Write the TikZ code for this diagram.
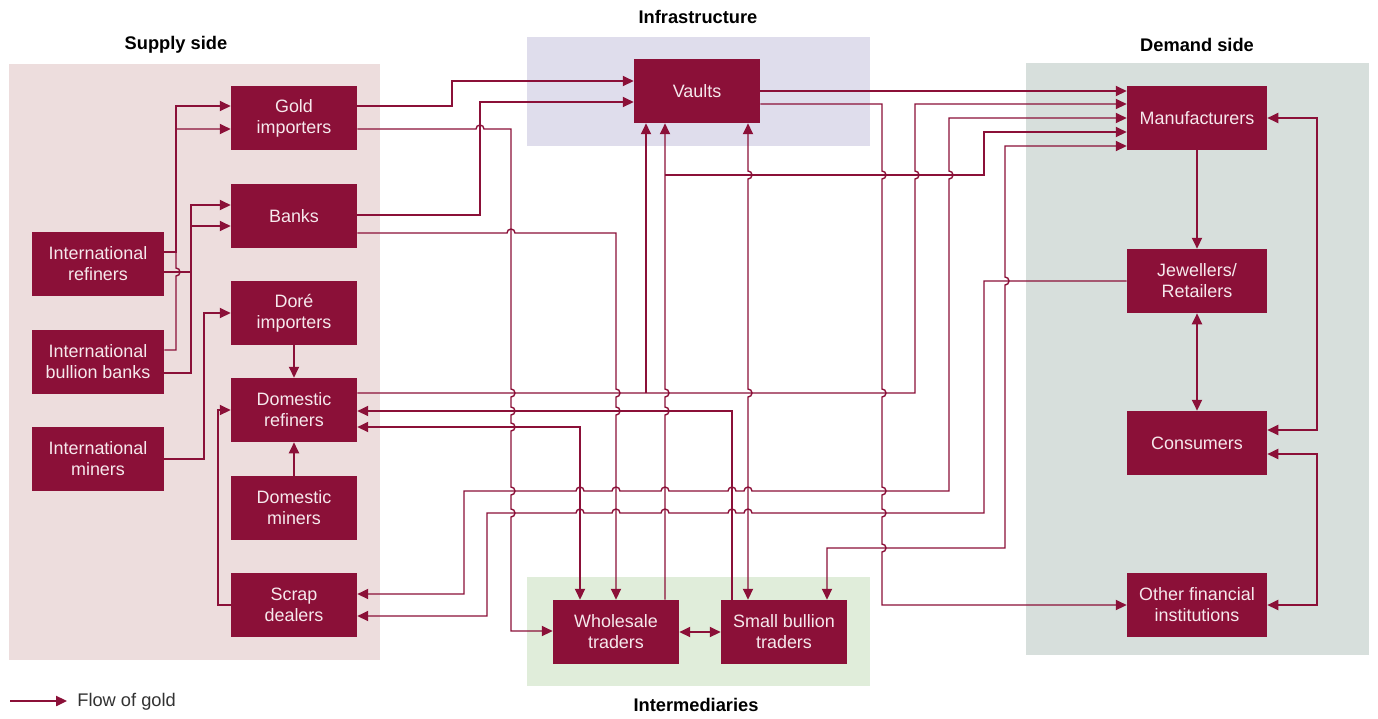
\documentclass[tikz,border=0pt]{standalone}
\usepackage{fontspec}
\setmainfont{Liberation Sans}
\usetikzlibrary{arrows.meta}
\definecolor{maroon}{RGB}{139,16,56}
\definecolor{boxtext}{RGB}{246,232,236}
\definecolor{supplybg}{RGB}{237,221,221}
\definecolor{infrabg}{RGB}{223,221,236}
\definecolor{demandbg}{RGB}{215,223,220}
\definecolor{intermbg}{RGB}{224,237,218}
\definecolor{legendtext}{RGB}{50,50,50}
\tikzset{
  flow/.style={draw=maroon, line width=0.8pt},
  vd/.style 2 args={insert path={-- (#1,#2-4) arc[start angle=-90,end angle=90,radius=4]}},
  vu/.style 2 args={insert path={-- (#1,#2+4) arc[start angle=90,end angle=-90,radius=4]}},
  hr/.style 2 args={insert path={-- (#1-4,#2) arc[start angle=180,end angle=360,radius=4]}},
  hl/.style 2 args={insert path={-- (#1+4,#2) arc[start angle=0,end angle=-180,radius=4]}},
  box/.style={fill=maroon, text=boxtext, minimum width=2.52cm, minimum height=1.28cm,
    inner sep=0pt, align=center, font=\fontsize{10.2}{12}\selectfont},
  ibox/.style={box, minimum width=2.64cm},
  dbox/.style={box, minimum width=2.8cm},
  title/.style={font=\fontsize{10.4}{12}\selectfont\bfseries, text=black},
}
\begin{document}
\begin{tikzpicture}[x=0.02cm,y=-0.02cm,>={Triangle[length=6.2pt,width=5.8pt]}]
\useasboundingbox (0,0) rectangle (1378,718);
% background areas
\fill[supplybg] (9,64) rectangle (380,660);
\fill[infrabg] (527,37) rectangle (870,146);
\fill[demandbg] (1026,63) rectangle (1369,655);
\fill[intermbg] (527,577) rectangle (870,686);
% titles
\node[title] (tsupply) at (176,45) {Supply side};
\node[title] (tinfra) at (698,17) {Infrastructure};
\node[title] (tdemand) at (1197,45) {Demand side};
\node[title] (tinterm) at (696,705) {Intermediaries};
% nodes
\node[box] (gold) at (294,118) {Gold\\importers};
\node[box] (banks) at (294,216) {Banks};
\node[box] (dore) at (294,313) {Doré\\importers};
\node[box] (domref) at (294,410) {Domestic\\refiners};
\node[box] (dommin) at (294,508) {Domestic\\miners};
\node[box] (scrap) at (294,605) {Scrap\\dealers};
\node[ibox] (intref) at (98,264) {International\\refiners};
\node[ibox] (intbb) at (98,362) {International\\bullion banks};
\node[ibox] (intmin) at (98,459) {International\\miners};
\node[box] (vaults) at (697,91) {Vaults};
\node[box] (whole) at (616,632) {Wholesale\\traders};
\node[box] (small) at (784,632) {Small bullion\\traders};
\node[dbox] (manu) at (1197,118) {Manufacturers};
\node[dbox] (jewel) at (1197,281) {Jewellers/\\Retailers};
\node[dbox] (cons) at (1197,443) {Consumers};
\node[dbox] (other) at (1197,605) {Other financial\\institutions};
\coordinate (j1) at (646,393);
\coordinate (j2) at (665,175);
% supply side internal
\draw[flow,->] (intref.east |- 0,252) -- (176,252) -- (176,106) -- (gold.west |- 0,106);
\draw[flow,->] (intbb.east |- 0,350) -- (176,350) [vu={176}{272}] -- (176,129) -- (gold.west |- 0,129);
\draw[flow,->] (intref.east |- 0,272) -- (191,272) -- (191,205) -- (banks.west |- 0,205);
\draw[flow,->] (intbb.east |- 0,373) -- (191,373) -- (191,226) -- (banks.west |- 0,226);
\draw[flow,->] (intmin.east) -- (204,459) -- (204,313) -- (dore.west);
\draw[flow,->] (scrap.west) -- (218,605) -- (218,410) -- (domref.west);
\draw[flow,->] (dore.south) -- (domref.north);
\draw[flow,->] (dommin.north) -- (domref.south);
% to vaults
\draw[flow,->] (gold.east |- 0,106) -- (452,106) -- (452,81) -- (vaults.west |- 0,81);
\draw[flow,->] (banks.east |- 0,215) -- (480,215) -- (480,102) -- (vaults.west |- 0,102);
% gold -> wholesale
\draw[flow,->] (gold.east |- 0,129) [hr={480}{129}] -- (511,129) [vd={511}{393}] [vd={511}{411}] [vd={511}{427}] [vd={511}{491}] [vd={511}{513}] -- (511,631) -- (whole.west |- 0,631);
% banks -> wholesale
\draw[flow,->] (banks.east |- 0,233) [hr={511}{233}] -- (616,233) [vd={616}{393}] [vd={616}{411}] -- (whole.north -| 616,0);
% domestic refiners -> vaults, manufacturers
\draw[flow,->] (domref.east |- 0,393) -- (915,393) [vu={915}{175}] -- (915,104) -- (manu.west |- 0,104);
\draw[flow,->] (j1) -- (vaults.south -| 646,0);
% small bullion -> domestic refiners
\draw[flow,->] (small.north -| 732,0) -- (732,411) -- (domref.east |- 0,411);
% domestic refiners <-> wholesale
\draw[flow,<->] (domref.east |- 0,427) -- (580,427) -- (whole.north -| 580,0);
% manufacturers <-> scrap
\draw[flow,<->] (manu.west |- 0,118) -- (949,118) [vd={949}{175}] -- (949,491) [hl={748}{491}] [hl={732}{491}] [hl={665}{491}] [hl={616}{491}] [hl={580}{491}] -- (464,491) -- (464,594) -- (scrap.east |- 0,594);
% jewellers -> scrap
\draw[flow,->] (jewel.west) -- (984,281) -- (984,513) [hl={748}{513}] [hl={732}{513}] [hl={665}{513}] [hl={616}{513}] [hl={580}{513}] -- (487,513) -- (487,616) -- (scrap.east |- 0,616);
% manufacturers <-> small bullion
\draw[flow,<->] (manu.west |- 0,146) -- (1005,146) [vd={1005}{281}] -- (1005,548) -- (827,548) -- (small.north -| 827,0);
% vaults -> manufacturers, other
\draw[flow,->] (vaults.east |- 0,91) -- (manu.west |- 0,91);
\draw[flow,->] (vaults.east |- 0,104) -- (882,104) [vd={882}{175}] [vd={882}{393}] [vd={882}{491}] [vd={882}{513}] [vd={882}{548}] -- (882,605) -- (other.west);
% wholesale -> vaults, manufacturers
\draw[flow,->] (whole.north -| 665,0) [vu={665}{411}] [vu={665}{393}] -- (vaults.south -| 665,0);
\draw[flow,->] (j2) -- (984,175) -- (984,132) -- (manu.west |- 0,132);
% vaults <-> small bullion
\draw[flow,<->] (vaults.south -| 748,0) [vd={748}{175}] [vd={748}{393}] -- (small.north -| 748,0);
% wholesale <-> small bullion
\draw[flow,<->] (whole.east) -- (small.west);
% demand side
\draw[flow,->] (manu.south) -- (jewel.north);
\draw[flow,<->] (jewel.south) -- (cons.north);
\draw[flow,<->] (manu.east) -- (1317,118) -- (1317,430) -- (cons.east |- 0,430);
\draw[flow,<->] (cons.east |- 0,454) -- (1317,454) -- (1317,605) -- (other.east);
% legend
\coordinate (lg1) at (10,701);
\coordinate (lg2) at (67,701);
\draw[flow,->] (lg1) -- (lg2);
\node[anchor=west, text=legendtext, font=\fontsize{10.4}{12}\selectfont, inner sep=0pt] (lgt) at (77,702) {Flow of gold};
\end{tikzpicture}
\end{document}
